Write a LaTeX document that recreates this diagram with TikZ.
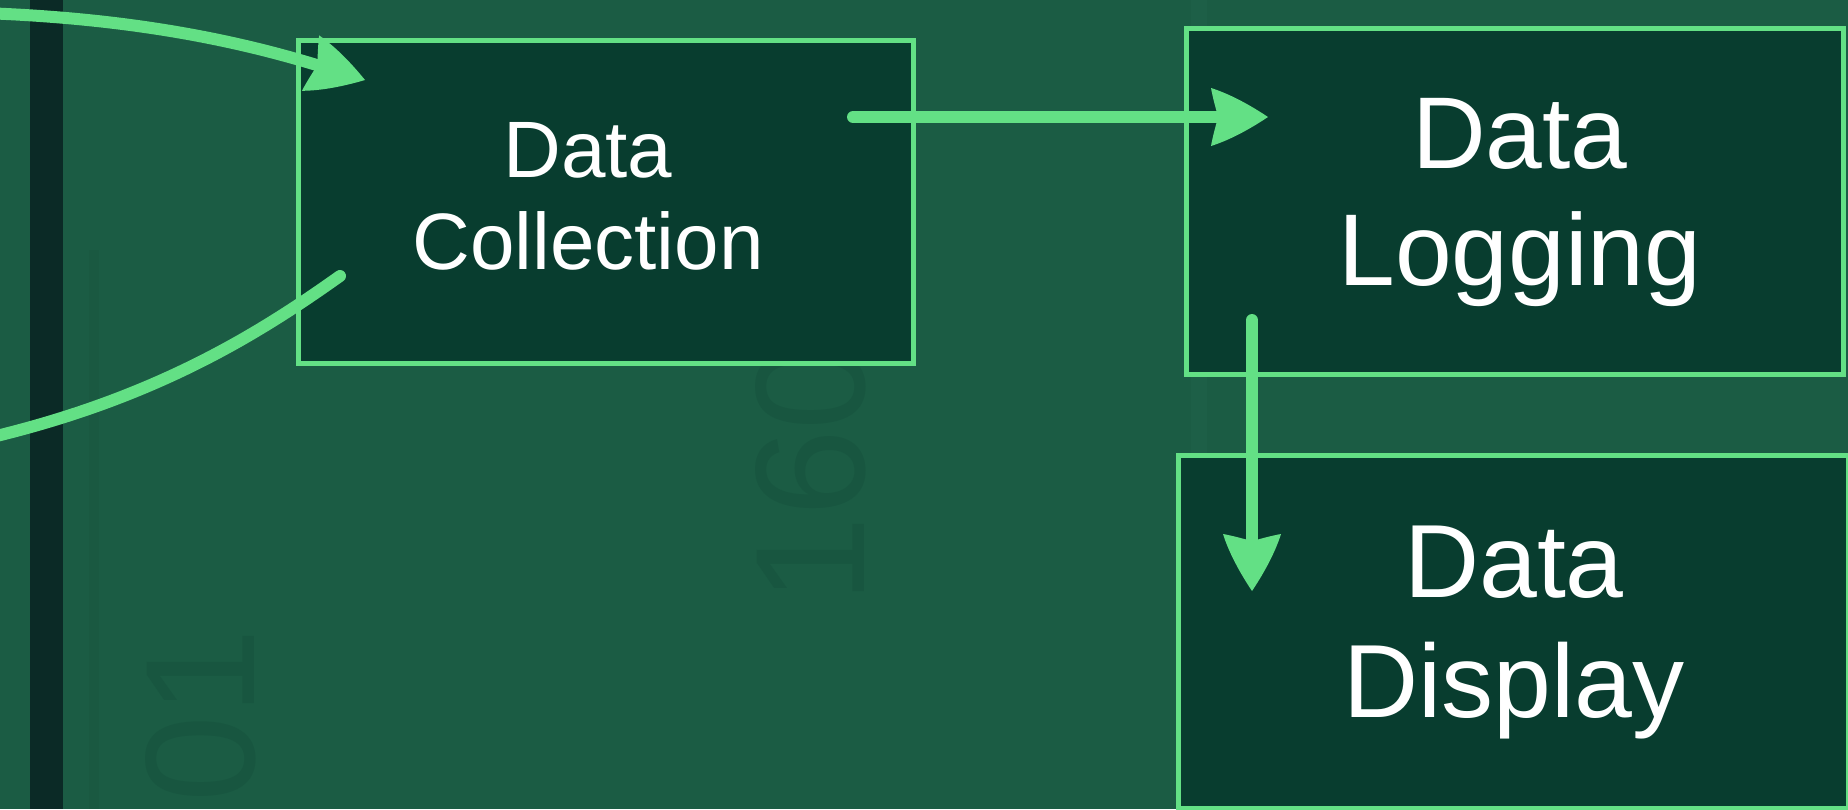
\documentclass[tikz,border=0pt]{standalone}
\usepackage{fontspec}
\setmainfont{Liberation Sans}
\usetikzlibrary{arrows.meta,calc}

\definecolor{bgcol}{HTML}{1B5C44}
\definecolor{boxfill}{HTML}{083D2F}
\definecolor{edge}{HTML}{63E085}
\definecolor{rail}{HTML}{0B2A26}
\definecolor{ghost}{HTML}{185640}
\definecolor{ghostline}{HTML}{1A5941}
\definecolor{ghostlight}{HTML}{1D5F47}

% swept arrow head with slightly convex flanks and a shallow notch at the back
\pgfdeclarearrow{
  name=Swept,
  setup code={
    \pgfarrowssettipend{0pt}
    \pgfarrowssetbackend{-28.5pt}
    \pgfarrowssetlineend{-23pt}
    \pgfarrowshullpoint{0pt}{0pt}
    \pgfarrowsupperhullpoint{-28.5pt}{14.5pt}
  },
  drawing code={
    \pgfpathmoveto{\pgfqpoint{0pt}{0pt}}
    \pgfpathcurveto{\pgfqpoint{-9pt}{6pt}}{\pgfqpoint{-19pt}{11.5pt}}{\pgfqpoint{-28.5pt}{14.5pt}}
    \pgfpathcurveto{\pgfqpoint{-27.5pt}{9pt}}{\pgfqpoint{-26pt}{4pt}}{\pgfqpoint{-25pt}{0pt}}
    \pgfpathcurveto{\pgfqpoint{-26pt}{-4pt}}{\pgfqpoint{-27.5pt}{-9pt}}{\pgfqpoint{-28.5pt}{-14.5pt}}
    \pgfpathcurveto{\pgfqpoint{-19pt}{-11.5pt}}{\pgfqpoint{-9pt}{-6pt}}{\pgfqpoint{0pt}{0pt}}
    \pgfpathclose
    \pgfusepathqfill
  },
}

\tikzset{
  stagebox/.style={draw=edge, fill=boxfill, line width=2.25pt, inner sep=0pt, anchor=north west},
  flow/.style={color=edge, line width=6pt, line cap=round},
  tipped/.style={flow, -{Swept}},
  lbl/.style={text=white, align=center, inner sep=0pt},
  bigtext/.style={font=\fontsize{51}{58.5}\selectfont},
  dispfont/.style={font=\fontsize{52}{60}\selectfont},
  midtext/.style={font=\fontsize{40}{46}\selectfont},
  ghosttext/.style={text=ghost, font=\fontsize{78}{78}\selectfont, rotate=90, anchor=base west, inner sep=0pt},
}

\begin{document}
\begin{tikzpicture}[x=0.5pt,y=-0.5pt]
  \useasboundingbox (0,0) rectangle (1848,809);
  \clip (0,0) rectangle (1848,809);
  \fill[bgcol] (0,0) rectangle (1848,809);

  % faint shapes in the background
  \draw[ghostline, line width=5pt] (94,250) -- (94,809);
  \draw[ghostlight, line width=8pt] (1199,0) -- (1199,809);
  \node[ghosttext] (yearA) at (864,604) {160};
  \node[ghosttext] (yearB) at (254,803) {01};

  % dark rail on the left
  \fill[rail] (30,0) rectangle (63,809);

  % stage boxes
  \node[stagebox, minimum width=307.5pt, minimum height=161.5pt] (coll) at (296,38) {};
  \node[stagebox, minimum width=328.5pt, minimum height=173pt] (log) at (1184,26) {};
  \node[stagebox, minimum width=335pt, minimum height=176.5pt] (disp) at (1176,453) {};

  % stage labels
  \node[lbl, midtext] (collT) at (588,196) {Data\\Collection};
  \node[lbl, bigtext] (logT) at (1520,202) {Data\\Logging};
  \node[lbl, dispfont] (dispT) at (1514,633) {Data\\Display};

  % connector end points
  \coordinate (offA) at (-60,12);
  \coordinate (offB) at (-80,452);
  \coordinate (inTop) at ($(coll.north west)+(69,42)$);
  \coordinate (outLow) at ($(coll.north west)+(44,238)$);
  \coordinate (hStart) at ($(coll.north west)+(557,79)$);
  \coordinate (hEnd) at ($(log.north west)+(84,91)$);
  \coordinate (vStart) at ($(log.north west)+(68,294)$);
  \coordinate (vEnd) at ($(disp.north west)+(76,138)$);

  % connectors
  \draw[tipped] (offA) .. controls (100,14) and (220,35) .. (inTop);
  \draw[flow] (outLow) .. controls (250,340) and (130,415) .. (offB);
  \draw[tipped] (hStart) -- (hEnd);
  \draw[tipped] (vStart) -- (vEnd);
\end{tikzpicture}
\end{document}
